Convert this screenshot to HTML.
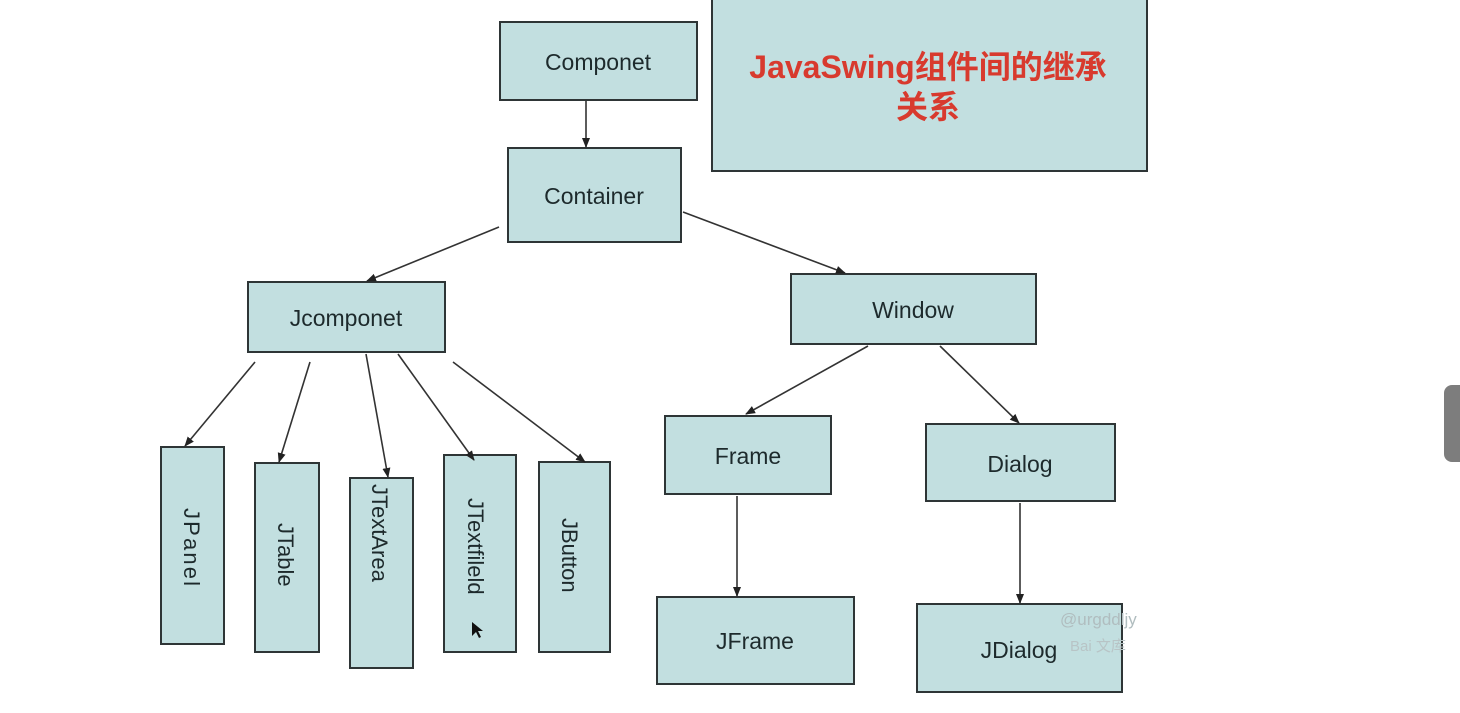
<!DOCTYPE html>
<html><head><meta charset="utf-8"><style>
html,body{margin:0;padding:0;background:#fff;width:1460px;height:713px;overflow:hidden}
svg{display:block}
text{font-family:"Liberation Sans","Noto Sans CJK SC",sans-serif;fill:#1d2a2c}
</style></head><body>
<svg width="1460" height="713" viewBox="0 0 1460 713" xmlns="http://www.w3.org/2000/svg">
<defs><marker id="a" markerWidth="10" markerHeight="10" refX="9" refY="5" orient="auto" markerUnits="userSpaceOnUse"><path d="M0,1 L10,5 L0,9 z" fill="#222"/></marker></defs>
<g fill="#c2dfe0" stroke="#2e3536" stroke-width="2">
<rect x="500" y="22" width="197" height="78"/>
<rect x="712" y="-2" width="435" height="173"/>
<rect x="508" y="148" width="173" height="94"/>
<rect x="248" y="282" width="197" height="70"/>
<rect x="791" y="274" width="245" height="70"/>
<rect x="161" y="447" width="63" height="197"/>
<rect x="255" y="463" width="64" height="189"/>
<rect x="350" y="478" width="63" height="190"/>
<rect x="444" y="455" width="72" height="197"/>
<rect x="539" y="462" width="71" height="190"/>
<rect x="665" y="416" width="166" height="78"/>
<rect x="926" y="424" width="189" height="77"/>
<rect x="657" y="597" width="197" height="87"/>
<rect x="917" y="604" width="205" height="88"/>
</g>
<g stroke="#333" stroke-width="1.6" marker-end="url(#a)">
<line x1="586" y1="101" x2="586" y2="147"/>
<line x1="499" y1="227" x2="367" y2="281"/>
<line x1="683" y1="212" x2="845" y2="273"/>
<line x1="255" y1="362" x2="185" y2="446"/>
<line x1="310" y1="362" x2="279" y2="462"/>
<line x1="366" y1="354" x2="388" y2="477"/>
<line x1="398" y1="354" x2="474" y2="460"/>
<line x1="453" y1="362" x2="585" y2="462"/>
<line x1="868" y1="346" x2="746" y2="414"/>
<line x1="940" y1="346" x2="1019" y2="423"/>
<line x1="737" y1="496" x2="737" y2="596"/>
<line x1="1020" y1="503" x2="1020" y2="603"/>
</g>
<g font-size="23" text-anchor="middle">
<text x="598" y="70">Componet</text>
<text x="594" y="204">Container</text>
<text x="346" y="326">Jcomponet</text>
<text x="913" y="318">Window</text>
<text x="748" y="464">Frame</text>
<text x="1020" y="472">Dialog</text>
<text x="755" y="649">JFrame</text>
<text x="1019" y="658">JDialog</text>
</g>
<g font-size="22">
<text transform="translate(184,508) rotate(90)" textLength="78">JPanel</text>
<text transform="translate(278,523) rotate(90)">JTable</text>
<text transform="translate(372,484) rotate(90)">JTextArea</text>
<text transform="translate(468,498) rotate(90)">JTextfileld</text>
<text transform="translate(562,518) rotate(90)">JButton</text>
</g>
<g font-size="32" font-weight="bold" text-anchor="middle">
<text x="928" y="78" style="fill:#d83a2e">JavaSwing组件间的继承</text>
<text x="928" y="118" style="fill:#d83a2e">关系</text>
</g>
<text x="1060" y="625" font-size="17" style="fill:#b0bdbf">@urgddljy</text>
<text x="1070" y="651" font-size="15" style="fill:#b8c4c6">Bai 文库</text>
<path d="M472,622 l0,14 l4,-4 l3,6 l2,-1 l-3,-6 l5,0 z" fill="#111"/>
<rect x="1444" y="385" width="30" height="77" rx="8" fill="#7d7d7d"/>
</svg>
</body></html>
